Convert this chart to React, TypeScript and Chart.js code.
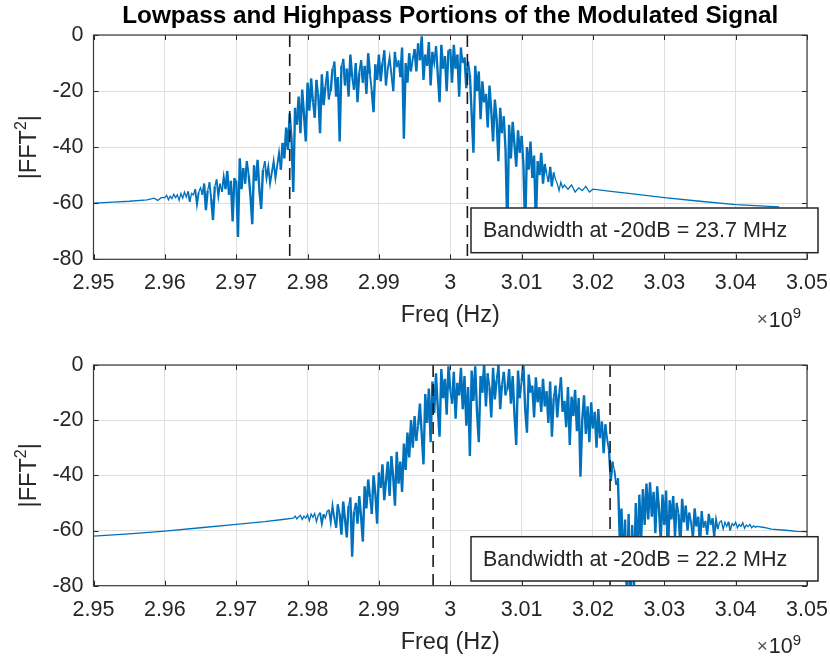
import React, { useEffect, useRef } from 'react';
import { Chart, registerables } from 'chart.js';

Chart.register(...registerables);

// ---------------- data (frequencies in units of 1e9 Hz, magnitudes in dB) ----------------
const titleText = 'Lowpass and Highpass Portions of the Modulated Signal';
const xAxisLabel = 'Freq (Hz)';
const xTicks = [2.95, 2.96, 2.97, 2.98, 2.99, 3.0, 3.01, 3.02, 3.03, 3.04, 3.05];
const yTicks = [-80, -60, -40, -20, 0];
const binStepGHz = 0.00025;

// top subplot (lowpass portion)
const topLowFreqGHz = [2.95, 2.9527, 2.955, 2.9575, 2.9585, 2.959, 2.9595];
const topLowDb = [-60.0, -59.6, -59.3, -58.8, -58.2, -59.0, -58.0];
const topBandStartGHz = 2.96;
const topBandDb = [
  -58.0, -57.2, -58.8, -57.5, -58.4, -56.8, -58.0, -57.0, -59.0, -56.5, -58.2, -56.0, -57.8, -55.8, -59.5, -56.5, -57.0, -55.0, -60.5, -56.0,
  -54.5, -57.0, -53.0, -62.5, -55.5, -52.5, -58.5, -66.0, -54.0, -51.5, -57.5, -53.0, -56.0, -50.5, -55.0, -48.5, -57.0, -52.0, -66.5, -51.0,
  -52.0, -72.0, -44.0, -55.0, -47.5, -53.0, -45.0, -50.0, -57.5, -67.5, -46.5, -52.0, -44.5, -55.5, -62.0, -48.0, -45.0, -51.0, -47.0, -53.0,
  -49.0, -45.0, -51.0, -46.5, -42.0, -48.0, -38.5, -44.0, -33.0, -41.0, -28.0, -37.0, -56.0, -26.0, -32.0, -22.0, -35.0, -19.5, -28.5, -38.0,
  -17.0, -27.0, -15.5, -24.0, -29.5, -16.0, -21.0, -35.0, -14.0, -25.0, -18.5, -13.0, -23.0, -20.0, -12.0, -9.5, -22.0, -15.0, -38.0, -11.0,
  -8.5, -18.0, -12.0, -22.0, -7.0, -15.0, -19.5, -10.0, -24.0, -13.5, -9.0, -17.0, -11.0, -21.0, -6.5, -14.0, -20.0, -27.5, -10.5, -16.0,
  -7.0, -16.5, -10.0, -5.5, -18.0, -12.0, -8.0, -14.0, -20.0, -6.0, -11.5, -9.0, -15.0, -4.5, -37.0, -10.0, -17.0, -6.5, -13.0, -8.5,
  -5.0, -13.0, -3.0, -9.0, -0.5, -16.0, -7.0, -11.0, -2.5, -18.0, -6.0, -10.0, -4.0, -14.0, -24.0, -3.5, -12.0, -7.5, -20.0, -5.5,
  -5.0, -17.0, -3.5, -12.0, -7.0, -22.0, -4.5, -10.0, -8.0, -19.0, -9.5, -14.0, -28.0, -42.0, -11.0, -20.0, -13.0, -30.0, -16.5, -24.0,
  -21.0, -33.0, -18.0, -27.0, -38.0, -23.0, -30.0, -45.0, -26.0, -35.0, -29.0, -41.0, -70.0, -32.0, -44.0, -31.0, -39.0, -47.0, -34.0, -42.0,
  -36.0, -46.0, -70.0, -40.0, -48.0, -38.0, -51.0, -43.0, -68.0, -45.0, -50.0, -42.0, -53.0, -46.0, -49.5, -52.5, -47.0, -54.0, -49.0, -51.5,
  -53.0, -55.5, -52.5, -54.5, -53.5,
];
const topHighFreqGHz = [3.0165, 3.017, 3.0175, 3.018, 3.0185, 3.019, 3.0195, 3.02, 3.0225, 3.025, 3.03, 3.035, 3.04, 3.0461];
const topHighDb = [-55.0, -53.5, -56.0, -54.5, -55.5, -54.0, -56.0, -55.0, -55.8, -56.5, -58.0, -59.3, -60.5, -61.3];
const topCutoffsGHz = [2.9775, 3.0024];
const topBandwidthText = 'Bandwidth at -20dB = 23.7 MHz';

// bottom subplot (highpass portion)
const bottomLowFreqGHz = [2.95, 2.955, 2.96, 2.965, 2.97, 2.974, 2.9765];
const bottomLowDb = [-62.0, -61.2, -60.2, -59.0, -57.8, -56.8, -56.0];
const bottomBandStartGHz = 2.978;
const bottomBandDb = [
  -55.5, -54.8, -55.8, -55.0, -54.5, -56.0, -54.8, -55.5, -54.2, -56.5, -54.0, -55.2, -53.8, -56.8, -54.5, -53.5, -57.5, -54.0, -55.5, -53.0,
  -52.5, -57.0, -51.0, -55.5, -59.0, -50.5, -54.0, -61.5, -49.5, -56.0, -62.5, -51.0, -48.0, -69.5, -53.0, -50.0, -57.5, -47.5, -55.0, -64.0,
  -44.0, -52.0, -41.5, -48.0, -54.0, -40.0, -46.5, -57.5, -39.0, -44.5, -36.0, -49.0, -42.0, -35.0, -47.5, -33.0, -40.5, -51.0, -31.5, -43.0,
  -35.0, -46.0, -28.5, -38.0, -24.5, -33.5, -20.0, -30.0, -18.5, -27.5, -22.0, -14.0, -25.0, -36.0, -10.5, -21.0, -8.5, -28.0, -6.0, -17.5,
  -3.0, -15.5, -26.0, -1.5, -12.0, -5.0, -18.0, -0.5, -9.0, -14.0, -2.5, -19.5, -6.5, -11.0, -1.0, -16.0, -4.0, -22.0, -8.0, -33.0,
  -2.0, -13.0, -0.5, -17.0, -28.0, -4.0, -10.0, 0.5, -15.0, -3.0, -8.0, -19.0, -1.0, -12.5, -5.5, 0.0, -16.0, -7.0, -2.5, -11.0,
  -9.0, -1.5, -14.0, -4.0, -18.0, -29.0, -2.0, -12.0, -6.0, 0.5, -16.0, -24.5, -3.5, -10.0, -7.5, -19.0, -4.5, -13.5, -8.0, -17.0,
  -5.0, -15.0, -9.5, -21.0, -6.0, -26.0, -12.0, -7.5, -19.0, -10.5, -4.5, -17.0, -13.0, -22.5, -8.0, -29.0, -11.5, -18.5, -9.0, -24.0,
  -12.0, -40.5, -20.0, -11.0, -25.0, -15.0, -28.0, -13.5, -23.0, -17.0, -30.0, -16.0, -26.5, -20.5, -32.0, -21.5, -27.0, -31.0, -42.0, -35.0,
  -38.0, -43.5, -41.0, -63.0, -52.0, -75.0, -56.0, -85.0, -54.0, -90.0, -58.0, -80.0, -50.0, -72.0, -47.0, -64.0, -45.0, -58.0, -43.0, -56.0,
  -42.5, -55.0, -46.0, -61.0, -44.0, -52.0, -64.0, -47.0, -58.0, -45.5, -70.0, -49.0, -56.0, -47.5, -62.0, -50.0, -54.0, -66.0, -48.5, -57.0,
  -51.0, -60.0, -53.5, -57.0, -63.0, -52.0, -58.5, -55.0, -65.0, -53.0, -59.0, -56.5, -61.5, -54.0, -58.0, -55.5, -62.0, -56.0, -59.5, -57.0,
  -56.5, -59.5, -57.0, -58.5, -56.8, -60.0, -57.5, -58.2, -57.0, -59.0, -57.8, -58.5, -57.2, -59.2, -58.0, -58.6, -57.8, -59.0, -58.3, -58.8,
  -58.5,
];
const bottomHighFreqGHz = [3.044, 3.045, 3.047, 3.0485, 3.05];
const bottomHighDb = [-58.9, -59.5, -59.9, -60.3, -60.4];
const bottomCutoffsGHz = [2.9976, 3.0224];
const bottomBandwidthText = 'Bandwidth at -20dB = 22.2 MHz';

// ---------------- styling ----------------
const FONT = '"Liberation Sans", Arial, Helvetica, sans-serif';
const AX = '#262626';
const GRID = '#dfdfdf';
const BLUE = '#0072BD';

function buildSeries(lowF: number[], lowDb: number[], start: number, band: number[], highF: number[], highDb: number[]) {
  const pts: { x: number; y: number }[] = [];
  lowF.forEach((f, i) => pts.push({ x: f, y: lowDb[i] }));
  band.forEach((v, i) => pts.push({ x: start + i * binStepGHz, y: v }));
  highF.forEach((f, i) => pts.push({ x: f, y: highDb[i] }));
  return pts;
}

type PanelCfg = {
  series: { x: number; y: number }[];
  cutoffs: number[];
  boxText: string;
  box: { l: number; t: number; r: number; b: number };
  showTitle: boolean;
  padBottom: number;
};

function makeDecor(cfg: PanelCfg) {
  return {
    id: 'decor',
    afterDraw(chart: any) {
      const { ctx, chartArea: a, scales } = chart;
      const x = scales.x;
      const y = scales.y;
      ctx.save();
      // tick marks (inside, MATLAB style)
      ctx.strokeStyle = AX;
      ctx.lineWidth = 1;
      ctx.beginPath();
      xTicks.forEach((v) => {
        const px = Math.round(x.getPixelForValue(v)) + 0.5;
        ctx.moveTo(px, a.bottom);
        ctx.lineTo(px, a.bottom - 5);
        ctx.moveTo(px, a.top);
        ctx.lineTo(px, a.top + 5);
      });
      yTicks.forEach((v) => {
        const py = Math.round(y.getPixelForValue(v)) + 0.5;
        ctx.moveTo(a.left, py);
        ctx.lineTo(a.left + 5, py);
        ctx.moveTo(a.right, py);
        ctx.lineTo(a.right - 5, py);
      });
      ctx.stroke();
      // frame
      ctx.lineWidth = 1.2;
      ctx.strokeStyle = '#3a3a3a';
      ctx.strokeRect(a.left, a.top, a.right - a.left, a.bottom - a.top);

      // annotation box
      const bx = cfg.box;
      ctx.fillStyle = '#ffffff';
      ctx.fillRect(bx.l, bx.t, bx.r - bx.l, bx.b - bx.t);
      ctx.lineWidth = 1.5;
      ctx.strokeStyle = AX;
      ctx.strokeRect(bx.l, bx.t, bx.r - bx.l, bx.b - bx.t);
      ctx.fillStyle = AX;
      ctx.font = `21.5px ${FONT}`;
      ctx.textAlign = 'left';
      ctx.textBaseline = 'middle';
      ctx.fillText(cfg.boxText, bx.l + 12, (bx.t + bx.b) / 2 + 1);

      // x label
      const cx = (a.left + a.right) / 2;
      ctx.font = `23.5px ${FONT}`;
      ctx.textAlign = 'center';
      ctx.textBaseline = 'alphabetic';
      ctx.fillText(xAxisLabel, cx, a.bottom + 63);

      // exponent  x10^9
      ctx.textAlign = 'right';
      ctx.font = `15px ${FONT}`;
      ctx.fillText('9', a.right - 6, a.bottom + 59);
      const w9 = ctx.measureText('9').width;
      ctx.font = `21.5px ${FONT}`;
      ctx.fillText('10', a.right - 6 - w9, a.bottom + 67.5);
      const w10 = ctx.measureText('10').width;
      ctx.fillStyle = '#555555';
      ctx.font = `19px ${FONT}`;
      ctx.fillText('\u00d7', a.right - 7 - w9 - w10, a.bottom + 66);

      // y label |FFT^2|
      ctx.fillStyle = AX;
      const cy = (a.top + a.bottom) / 2;
      ctx.translate(29, cy);
      ctx.rotate(-Math.PI / 2);
      ctx.textAlign = 'left';
      ctx.textBaseline = 'middle';
      ctx.font = `23.5px ${FONT}`;
      const w1 = ctx.measureText('|FFT').width;
      const w3 = ctx.measureText('|').width;
      ctx.font = `16px ${FONT}`;
      const w2 = ctx.measureText('2').width;
      const total = w1 + w2 + w3;
      let sx = -total / 2;
      ctx.font = `23.5px ${FONT}`;
      ctx.fillText('|FFT', sx, 1);
      sx += w1;
      ctx.font = `16px ${FONT}`;
      ctx.fillText('2', sx, -7);
      sx += w2;
      ctx.font = `23.5px ${FONT}`;
      ctx.fillText('|', sx, 1);
      ctx.setTransform(1, 0, 0, 1, 0, 0);

      // title
      if (cfg.showTitle) {
        ctx.fillStyle = '#000000';
        ctx.font = `bold 24.3px ${FONT}`;
        ctx.textAlign = 'center';
        ctx.textBaseline = 'alphabetic';
        ctx.fillText(titleText, cx, 23);
      }
      ctx.restore();
    },
  };
}

function Panel({ cfg, height }: { cfg: PanelCfg; height: number }) {
  const ref = useRef<HTMLCanvasElement | null>(null);
  useEffect(() => {
    if (!ref.current) return;
    const datasets: any[] = [
      {
        data: cfg.series,
        borderColor: BLUE,
        borderWidth: 1.3,
        pointRadius: 0,
        tension: 0,
        order: 2,
        segment: {
          borderWidth: (c: any) => {
            const d = Math.abs(c.p1.parsed.y - c.p0.parsed.y);
            return d > 6 ? 2.4 : d > 3 ? 1.9 : 1.3;
          },
        },
      },
      ...cfg.cutoffs.map((f) => ({
        data: [
          { x: f, y: 0 },
          { x: f, y: -80 },
        ],
        borderColor: '#1a1a1a',
        borderWidth: 1.6,
        borderDash: [12, 7],
        pointRadius: 0,
        order: 1,
      })),
    ];
    const chart = new Chart(ref.current, {
      type: 'line',
      data: { datasets },
      plugins: [makeDecor(cfg)],
      options: {
        animation: false,
        responsive: false,
        devicePixelRatio: 1,
        events: [],
        layout: { padding: { left: 43.5, right: 23, top: 35, bottom: cfg.padBottom } },
        plugins: { legend: { display: false }, tooltip: { enabled: false }, title: { display: false } },
        scales: {
          x: {
            type: 'linear',
            min: 2.95,
            max: 3.05,
            afterBuildTicks: (s: any) => {
              s.ticks = xTicks.map((v) => ({ value: v }));
            },
            afterFit: (s: any) => {
              s.height = 40;
              s.paddingLeft = 0;
              s.paddingRight = 0;
            },
            grid: { color: GRID, lineWidth: 1, drawTicks: false },
            border: { display: false },
            ticks: {
              autoSkip: false,
              maxRotation: 0,
              minRotation: 0,
              padding: 11,
              color: AX,
              font: { family: FONT, size: 21.5 },
              callback: (v: any) => String(Number(Number(v).toFixed(2))),
            },
          },
          y: {
            type: 'linear',
            min: -80,
            max: 0,
            afterBuildTicks: (s: any) => {
              s.ticks = yTicks.map((v) => ({ value: v }));
            },
            afterFit: (s: any) => {
              s.width = 50;
              s.paddingTop = 0;
              s.paddingBottom = 0;
            },
            grid: { color: GRID, lineWidth: 1, drawTicks: false },
            border: { display: false },
            ticks: {
              padding: 10,
              color: AX,
              font: { family: FONT, size: 21.5 },
              callback: (v: any) => String(v),
            },
          },
        },
      } as any,
    });
    return () => chart.destroy();
  }, []);
  return <canvas ref={ref} width={830} height={height} style={{ display: 'block' }} />;
}

export default function App() {
  const top: PanelCfg = {
    series: buildSeries(topLowFreqGHz, topLowDb, topBandStartGHz, topBandDb, topHighFreqGHz, topHighDb),
    cutoffs: topCutoffsGHz,
    boxText: topBandwidthText,
    box: { l: 471, t: 208, r: 818, b: 252.7 },
    showTitle: true,
    padBottom: 30.7,
  };
  const bottom: PanelCfg = {
    series: buildSeries(bottomLowFreqGHz, bottomLowDb, bottomBandStartGHz, bottomBandDb, bottomHighFreqGHz, bottomHighDb),
    cutoffs: bottomCutoffsGHz,
    boxText: bottomBandwidthText,
    box: { l: 471, t: 206.7, r: 818, b: 251 },
    showTitle: false,
    padBottom: 33.3,
  };
  return (
    <div style={{ position: 'absolute', left: 0, top: 0, width: 830, height: 659, background: '#fff' }}>
      <Panel cfg={top} height={330} />
      <Panel cfg={bottom} height={329} />
    </div>
  );
}
